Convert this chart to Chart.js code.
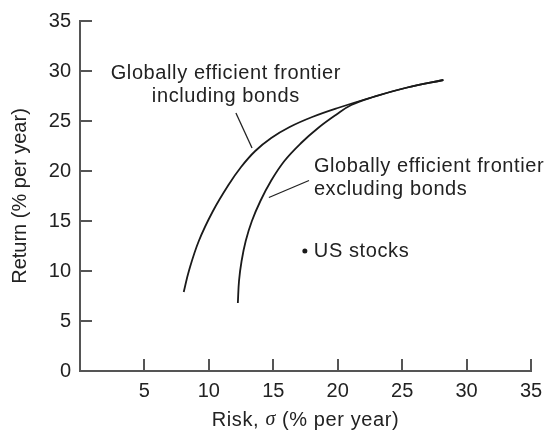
<!DOCTYPE html>
<html>
<head>
<meta charset="utf-8">
<script src="https://cdn.jsdelivr.net/npm/chart.js@4.4.1/dist/chart.umd.min.js"></script>
<style>
  html, body { margin: 0; padding: 0; background: #fff; }
</style>
</head>
<body>
<canvas id="frontierChart" width="546" height="433"></canvas>
<script>
// Values (risk and return, % per year)
const withBondsRisk   = [8.05, 8.45, 9.22, 10.32, 11.52, 12.5, 13.6, 14.84, 16.27, 18.02, 20.0, 22.75, 25.4, 28.2];
const withBondsReturn = [7.9, 10.0, 13.0, 16.0, 18.6, 20.4, 22.0, 23.3, 24.4, 25.4, 26.3, 27.4, 28.35, 29.1];
const noBondsRisk     = [12.25, 12.34, 12.54, 12.86, 13.34, 14.0, 14.82, 15.86, 17.16, 18.48, 19.85, 21.05, 22.75, 25.4, 28.2];
const noBondsReturn   = [6.8, 9.0, 11.0, 13.0, 15.0, 17.0, 19.0, 21.0, 22.8, 24.3, 25.6, 26.6, 27.4, 28.35, 29.1];
const usStocksRisk = [17.45];
const usStocksReturn = [12.0];
const axisTicks = [0, 5, 10, 15, 20, 25, 30, 35];

const inkColor = '#222';
const axisColor = '#555';
const fontFamily = '"Liberation Sans", Arial, Helvetica, sans-serif';

function toPoints(xs, ys) {
  return xs.map((x, i) => ({ x: x, y: ys[i] }));
}

// Labels and leader lines, placed in data units
const annotations = [
  { lines: ['Globally efficient frontier', 'including bonds'], x: 11.32, y: 29.8, align: 'center',
    leader: [[12.1, 25.8], [13.35, 22.3]] },
  { lines: ['Globally efficient frontier', 'excluding bonds'], x: 18.15, y: 20.5, align: 'left',
    leader: [[17.77, 19.05], [14.66, 17.35]] }
];

const extrasPlugin = {
  id: 'extras',
  afterDraw(chart) {
    const c = chart.ctx;
    const xs = chart.scales.x, ys = chart.scales.y;
    const area = chart.chartArea;
    c.save();

    // inward tick marks
    c.strokeStyle = axisColor;
    c.lineWidth = 2;
    ys.ticks.forEach(t => {
      if (t.value === 0) return;
      const py = Math.round(ys.getPixelForValue(t.value));
      c.beginPath(); c.moveTo(area.left, py); c.lineTo(area.left + 12, py); c.stroke();
    });
    xs.ticks.forEach(t => {
      if (t.value === 0) return;
      const px = Math.round(xs.getPixelForValue(t.value));
      c.beginPath(); c.moveTo(px, area.bottom); c.lineTo(px, area.bottom - 12); c.stroke();
    });

    // annotations
    c.fillStyle = inkColor;
    c.strokeStyle = inkColor;
    c.font = '20px ' + fontFamily;
    c.letterSpacing = '0.6px';
    c.textBaseline = 'middle';
    annotations.forEach(a => {
      c.textAlign = a.align;
      const px = xs.getPixelForValue(a.x);
      const py = ys.getPixelForValue(a.y);
      a.lines.forEach((s, i) => c.fillText(s, px, py + i * 23));
      c.lineWidth = 1.3;
      c.beginPath();
      c.moveTo(xs.getPixelForValue(a.leader[0][0]), ys.getPixelForValue(a.leader[0][1]));
      c.lineTo(xs.getPixelForValue(a.leader[1][0]), ys.getPixelForValue(a.leader[1][1]));
      c.stroke();
    });

    // US stocks label
    c.textAlign = 'left';
    c.fillText('US stocks', xs.getPixelForValue(usStocksRisk[0]) + 9, ys.getPixelForValue(usStocksReturn[0]));

    // x axis title with italic sigma
    const parts = [
      { t: 'Risk, ', f: '20px ' + fontFamily },
      { t: 'σ', f: 'italic 20px "Liberation Serif", "Times New Roman", serif' },
      { t: ' (% per year)', f: '20px ' + fontFamily }
    ];
    let total = 0;
    parts.forEach(p => { c.font = p.f; p.w = c.measureText(p.t).width; total += p.w; });
    let cx = (area.left + area.right) / 2 - total / 2;
    parts.forEach(p => { c.font = p.f; c.fillText(p.t, cx, 420); cx += p.w; });

    c.restore();
  }
};

const ctx = document.getElementById('frontierChart').getContext('2d');

const frontierChart = new Chart(ctx, {
  type: 'scatter',
  data: {
    datasets: [
      {
        label: 'Globally efficient frontier including bonds',
        data: toPoints(withBondsRisk, withBondsReturn),
        showLine: true,
        borderColor: '#1a1a1a',
        borderWidth: 1.8,
        pointRadius: 0,
        tension: 0.4
      },
      {
        label: 'Globally efficient frontier excluding bonds',
        data: toPoints(noBondsRisk, noBondsReturn),
        showLine: true,
        borderColor: '#1a1a1a',
        borderWidth: 1.8,
        pointRadius: 0,
        tension: 0.4
      },
      {
        label: 'US stocks',
        data: toPoints(usStocksRisk, usStocksReturn),
        pointRadius: 2.5,
        backgroundColor: '#1a1a1a',
        borderWidth: 0
      }
    ]
  },
  options: {
    responsive: false,
    animation: false,
    layout: { padding: { top: 20, right: 15, left: 0, bottom: 0 } },
    plugins: {
      legend: { display: false },
      tooltip: { enabled: false }
    },
    scales: {
      x: {
        type: 'linear',
        min: 0,
        max: 35,
        afterBuildTicks: s => { s.ticks = axisTicks.map(v => ({ value: v })); },
        afterFit: s => { s.height = 62; s.paddingLeft = 0; s.paddingRight = 11; },
        ticks: {
          color: inkColor,
          padding: 8,
          font: { family: fontFamily, size: 20 },
          callback: v => (v === 0 ? '' : v)
        },
        grid: { drawOnChartArea: false, drawTicks: false },
        border: { color: axisColor, width: 2 },
        title: { display: false }
      },
      y: {
        type: 'linear',
        min: 0,
        max: 35,
        afterBuildTicks: s => { s.ticks = axisTicks.map(v => ({ value: v })); },
        afterFit: s => { s.width = 80; },
        ticks: {
          color: inkColor,
          padding: 9,
          font: { family: fontFamily, size: 20 }
        },
        grid: { drawOnChartArea: false, drawTicks: false },
        border: { color: axisColor, width: 2 },
        title: {
          display: true,
          text: 'Return (% per year)',
          color: inkColor,
          font: { family: fontFamily, size: 20 },
          padding: { top: 8, bottom: 0 }
        }
      }
    }
  },
  plugins: [extrasPlugin]
});
</script>
</body>
</html>
